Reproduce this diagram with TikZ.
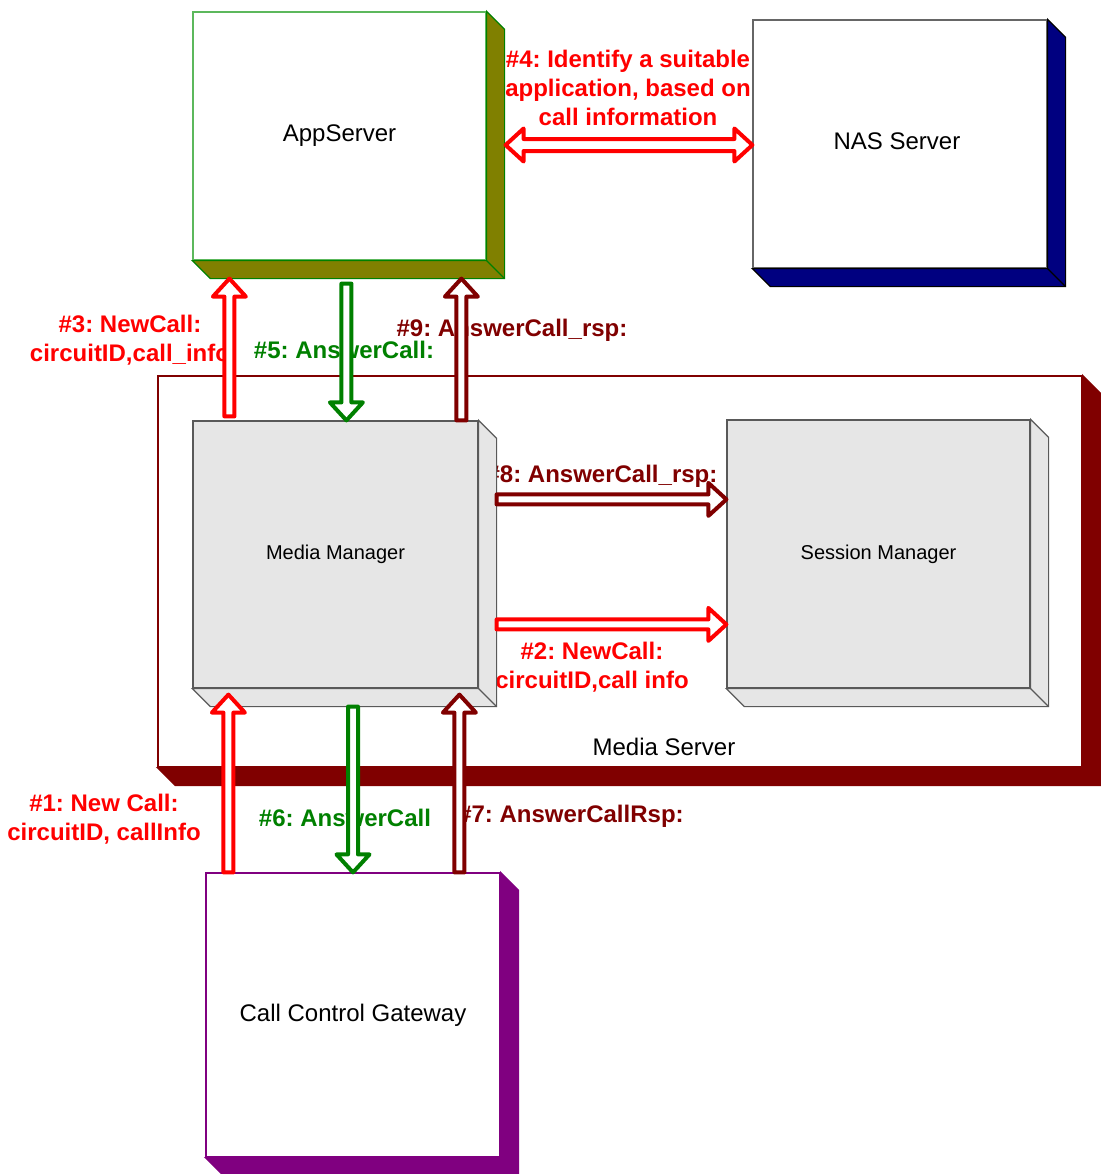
\documentclass[tikz,border=0pt]{standalone}
\usepackage{fontspec}
\setmainfont{Liberation Sans}
\usetikzlibrary{calc}
\frenchspacing
\definecolor{cred}{HTML}{FF0000}
\definecolor{cdark}{HTML}{800000}
\definecolor{cgreen}{HTML}{008000}
\definecolor{colive}{HTML}{808000}
\definecolor{cnavy}{HTML}{000080}
\definecolor{cpurple}{HTML}{800080}
\definecolor{cgrey}{HTML}{E6E6E6}
\definecolor{asborder}{HTML}{5CB85C}
\tikzset{
 face/.style={draw, line width=0.6pt, inner sep=0pt, font=\fontsize{12}{14}\selectfont},
 smallface/.style={face, font=\fontsize{10}{12}\selectfont},
 lbl/.style={font=\bfseries\fontsize{12}{14.5}\selectfont, align=center, inner sep=0pt},
 blk/.style={line width=2pt, fill=white, line join=round},
}
\newcommand\drawdepth[3]{%
 \filldraw[fill=#2, draw=#3, line width=0.6pt] (#1.north east) -- ++(9pt,-9pt)
   -- ([shift={(9pt,-9pt)}]#1.south east) -- ([shift={(9pt,-9pt)}]#1.south west)
   -- (#1.south west) -- (#1.south east) -- cycle;
 \draw[#3, line width=0.6pt] (#1.south east) -- ++(9pt,-9pt);
}
\newcommand\blockarrow[3]{%
 \coordinate (ba-s) at (#2); \coordinate (ba-e) at (#3);
 \coordinate (ba-h) at ($(ba-e)!9pt!(ba-s)$);
 \draw[blk,#1] ($(ba-s)!2.5pt!90:(ba-e)$) -- ($(ba-h)!2.5pt!90:(ba-e)$)
   -- ($(ba-h)!8.25pt!90:(ba-e)$) -- (ba-e) -- ($(ba-h)!8.25pt!-90:(ba-e)$)
   -- ($(ba-h)!2.5pt!-90:(ba-e)$) -- ($(ba-s)!2.5pt!-90:(ba-e)$) -- cycle;
}
\newcommand\dblockarrow[3]{%
 \coordinate (ba-s) at (#2); \coordinate (ba-e) at (#3);
 \coordinate (ba-h) at ($(ba-e)!9pt!(ba-s)$);
 \coordinate (ba-g) at ($(ba-s)!9pt!(ba-e)$);
 \draw[blk,#1] (ba-s) -- ($(ba-g)!8.25pt!-90:(ba-s)$) -- ($(ba-g)!3pt!-90:(ba-s)$)
   -- ($(ba-h)!3pt!90:(ba-e)$) -- ($(ba-h)!8.25pt!90:(ba-e)$) -- (ba-e)
   -- ($(ba-h)!8.25pt!-90:(ba-e)$) -- ($(ba-h)!3pt!-90:(ba-e)$)
   -- ($(ba-g)!3pt!90:(ba-s)$) -- ($(ba-g)!8.25pt!90:(ba-s)$) -- cycle;
}
\begin{document}
\begin{tikzpicture}[x=0.5pt,y=-0.5pt]
\useasboundingbox (0,0) rectangle (1100,1174);
% Media Server container
\node[face, draw=cdark, fill=white, minimum width=462pt, minimum height=195.5pt] (ms) at (620,571.5) {};
\drawdepth{ms}{cdark}{cdark}
\node[font=\fontsize{12}{14}\selectfont, inner sep=0pt] (mslabel) at (664,747) {Media Server};
% labels
\node[lbl, text=cred] (l4) at (628,88) {\#4: Identify a suitable\\application, based on\\call information};
\node[lbl, text=cred] (l3) at (130,340) {\#3: NewCall:\\circuitID,call\_info};
\node[lbl, text=cgreen] (l5) at (344,350) {\#5: AnswerCall:};
\node[lbl, text=cdark] (l9) at (512,330) {\#9: AnswerCall\_rsp:};
\node[lbl, text=cdark] (l8) at (602,476) {\#8: AnswerCall\_rsp:};
\node[lbl, text=cred] (l2) at (592,667) {\#2: NewCall:\\circuitID,call info};
\node[lbl, text=cred] (l1) at (104,819) {\#1: New Call:\\circuitID, callInfo};
\node[lbl, text=cgreen] (l6) at (345,818) {\#6: AnswerCall};
\node[lbl, text=cdark] (l7) at (571,816) {\#7: AnswerCallRsp:};
% boxes
\node[face, draw=asborder, fill=white, minimum width=146.5pt, minimum height=124pt] (as) at (339.5,136) {AppServer};
\drawdepth{as}{colive}{cgreen}
\node[face, draw=black!60, fill=white, minimum width=147pt, minimum height=124pt] (nas) at (900,144) {\raisebox{3pt}{NAS Server}\hspace*{3pt}};
\drawdepth{nas}{cnavy}{black}
\node[smallface, draw=black!65, fill=cgrey, minimum width=142.5pt, minimum height=133.5pt] (mm) at (335.5,554.5) {Media Manager};
\drawdepth{mm}{cgrey}{black!65}
\node[smallface, draw=black!65, fill=cgrey, minimum width=151.5pt, minimum height=134pt] (sm) at (878.5,554) {Session Manager};
\drawdepth{sm}{cgrey}{black!65}
\node[face, draw=cpurple, fill=white, minimum width=147pt, minimum height=142pt] (ccg) at (353,1015) {Call Control Gateway};
\drawdepth{ccg}{cpurple}{cpurple}
% helper coordinates
\coordinate (asb) at ([yshift=-9pt]as.south);
\coordinate (asb5) at ([yshift=-11.5pt]as.south);
\coordinate (mmb) at ([yshift=-9pt]mm.south);
\coordinate (mmtip) at ([yshift=-3pt]mm.south);
\coordinate (p3a) at ([xshift=18.5pt,yshift=2pt]mm.north west);
\coordinate (p3b) at (p3a |- asb);
\coordinate (p5b) at ([xshift=77pt]mm.north west);
\coordinate (p5a) at (p5b |- asb5);
\coordinate (p9a) at ([xshift=134.5pt]mm.north west);
\coordinate (p9b) at (p9a |- asb);
\coordinate (p4a) at ([xshift=9.5pt,yshift=-4.5pt]as.east);
\coordinate (p4b) at (p4a -| nas.west);
\coordinate (p8a) at ([xshift=9pt,yshift=-39.5pt]mm.north east);
\coordinate (p8b) at (p8a -| sm.west);
\coordinate (p2a) at ([xshift=9pt,yshift=-102pt]mm.north east);
\coordinate (p2b) at (p2a -| sm.west);
\coordinate (p1a) at ([xshift=11.5pt]ccg.north west);
\coordinate (p1b) at (p1a |- mmtip);
\coordinate (p7a) at ([xshift=127pt]ccg.north west);
\coordinate (p7b) at (p7a |- mmtip);
\coordinate (p6a) at (ccg.north |- mmb);
% arrows
\blockarrow{draw=cred}{p3a}{p3b}
\blockarrow{draw=cgreen}{p5a}{p5b}
\blockarrow{draw=cdark}{p9a}{p9b}
\dblockarrow{draw=cred}{p4a}{p4b}
\blockarrow{draw=cdark}{p8a}{p8b}
\blockarrow{draw=cred}{p2a}{p2b}
\blockarrow{draw=cred}{p1a}{p1b}
\blockarrow{draw=cdark}{p7a}{p7b}
\blockarrow{draw=cgreen}{p6a}{ccg.north}
\end{tikzpicture}
\end{document}
